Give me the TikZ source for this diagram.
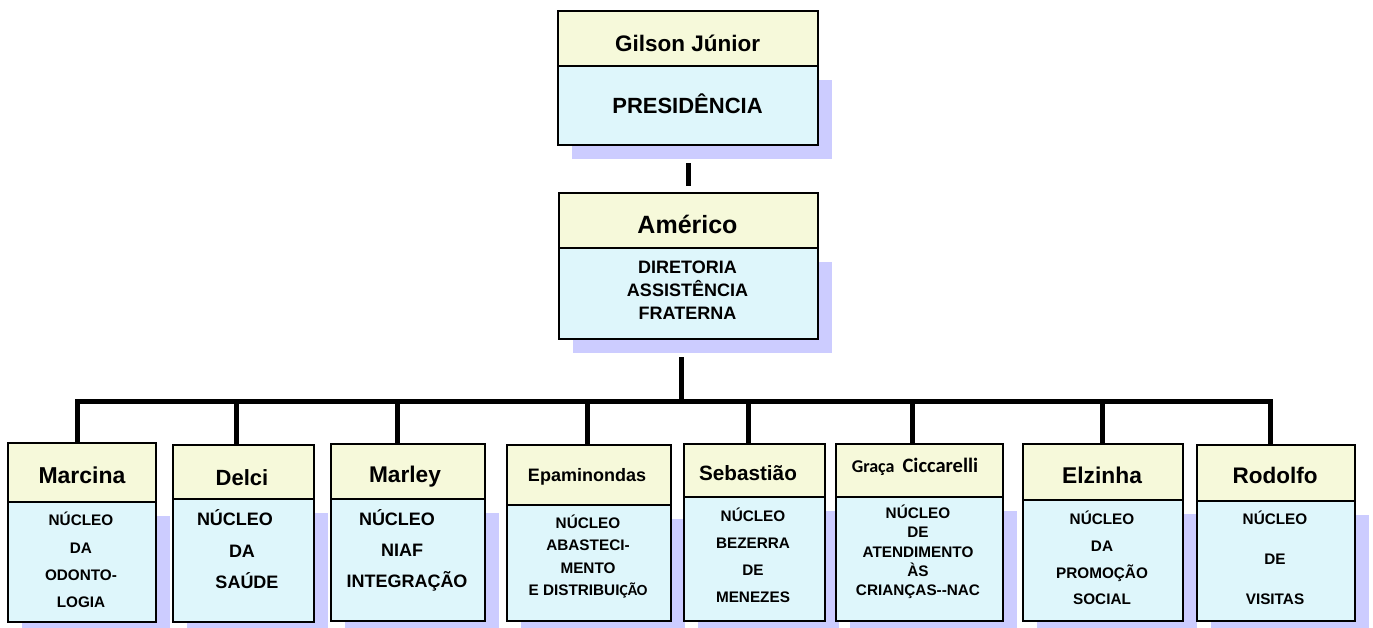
\documentclass[tikz,border=0pt]{standalone}
\usepackage{fontspec}
\setmainfont{Liberation Sans}
\newfontfamily\carl{Carlito}
\definecolor{hdfill}{RGB}{246,249,218}
\definecolor{bdfill}{RGB}{222,246,251}
\definecolor{shadowc}{RGB}{204,204,255}
\newcommand\fsz[2]{\fontsize{#1}{#2}\selectfont}
\tikzset{
  hd/.style={draw=black, line width=2.2pt, fill=hdfill, inner sep=0pt},
  bd/.style={draw=black, line width=2.2pt, fill=bdfill, inner sep=0pt},
  txt/.style={inner sep=0pt, align=center, text=black},
  conn/.style={draw=black, line width=5pt},
}
\newcommand\orgbox[6]{%
  \fill[shadowc] ({#2+15},{#5+15}) rectangle ({#3+15},{#6+15});
  \node[hd, anchor=north west, minimum width={#3-#2}, minimum height={#5-#4}] (#1h) at (#2,#4) {};
  \node[bd, anchor=north west, minimum width={#3-#2}, minimum height={#6-#5}] (#1b) at (#2,#5) {};
}
\begin{document}
\begin{tikzpicture}[x=1pt,y=-1pt]
\useasboundingbox (0,0) rectangle (1373,628);
% boxes
\orgbox{pr}{557}{817}{10}{65}{144}
\orgbox{am}{558}{817}{192}{247}{338}
\orgbox{mar}{7}{155}{442}{501}{621}
\orgbox{del}{172}{313}{444}{498}{621}
\orgbox{mly}{330}{484}{443}{498}{620}
\orgbox{epa}{506}{670}{444}{504}{620}
\orgbox{seb}{683}{824}{443}{496}{620}
\orgbox{gra}{835}{1002}{443}{496}{620}
\orgbox{elz}{1022}{1182}{443}{499}{620}
\orgbox{rod}{1196}{1354}{444}{500}{620}
% texts
\node[txt, font=\bfseries\fsz{22.5}{27}] (prName) at (687.5,43) {Gilson Júnior};
\node[txt, font=\bfseries\fsz{22}{27}] (prDesc) at (687.5,104) {PRESIDÊNCIA};
\node[txt, font=\bfseries\fsz{25}{30}] (amName) at (687.5,224) {Américo};
\node[txt, font=\bfseries\fsz{18}{23}] (amDesc) at (687.5,290) {DIRETORIA\\ASSISTÊNCIA\\FRATERNA};
\node[txt, font=\bfseries\fsz{23}{27}] (marName) at (82,475) {Marcina};
\node[txt, font=\bfseries\fsz{15.3}{27.3}] (marDesc) at (81,560) {NÚCLEO\\DA\\ODONTO-\\LOGIA};
\node[txt, font=\bfseries\fsz{22}{27}] (delName) at (242,478) {Delci};
\node[txt, font=\bfseries\fsz{18}{31.5}, anchor=north] (delDesc) at (235,509.5) {NÚCLEO\\\hspace*{14pt}DA\\\hspace*{24pt}SAÚDE};
\node[txt, font=\bfseries\fsz{22.7}{27}] (mlyName) at (405,477) {Marley};
\node[txt, font=\bfseries\fsz{18}{31}, anchor=north] (mlyDesc) at (397,509.5) {NÚCLEO\\\hspace*{10pt}NIAF\\\hspace*{20pt}INTEGRAÇÃO};
\node[txt, font=\bfseries\fsz{18}{22}] (epaName) at (587,477) {Epaminondas};
\node[txt, font=\bfseries\fsz{15.3}{22.3}] (epaDesc) at (588,556.5) {NÚCLEO\\ABASTECI-\\MENTO\\E DISTRIBUI{\carl\fsz{15.5}{22.3}ÇÃO}};
\node[txt, font=\bfseries\fsz{20.7}{26}] (sebName) at (748,473) {Sebastião};
\node[txt, font=\bfseries\fsz{15.3}{27}] (sebDesc) at (753,555.5) {NÚCLEO\\BEZERRA\\DE\\MENEZES};
\node[txt, font=\bfseries\carl] (graName) at (915,467) {\fsz{18}{24}Graça\ \ \fsz{20.5}{24}Ciccarelli};
\node[txt, font=\bfseries\fsz{15.3}{19.4}] (graDesc) at (918,552) {NÚCLEO\\DE\\ATENDIMENTO\\ÀS\\CRIANÇAS-{}-NAC};
\node[txt, font=\bfseries\fsz{22.8}{27}] (elzName) at (1102,475) {Elzinha};
\node[txt, font=\bfseries\fsz{15.3}{26.7}] (elzDesc) at (1102,558) {NÚCLEO\\DA\\PROMOÇÃO\\SOCIAL};
\node[txt, font=\bfseries\fsz{22.5}{27}] (rodName) at (1275,475) {Rodolfo};
\node[txt, font=\bfseries\fsz{15.3}{40}] (rodDesc) at (1275,558) {NÚCLEO\\DE\\VISITAS};
% connectors
\path (prb.south) ++(0,17) coordinate (prx);
\path (amh.north) ++(0,-6) coordinate (amy);
\draw[conn] (prx) -- (prx |- amy);
\coordinate (b1) at (77,401);
\coordinate (b2) at (236,401);
\coordinate (b3) at (397,401);
\coordinate (b4) at (587,401);
\coordinate (b5) at (748,401);
\coordinate (b6) at (912,401);
\coordinate (b7) at (1102,401);
\coordinate (b8) at (1270,401);
\coordinate (bm) at (681,401);
\path (amb.south) ++(0,17) coordinate (amx);
\draw[conn] (bm |- amx) -- (bm);
\draw[conn, line cap=rect] (b1) -- (b8);
\draw[conn] (b1) -- (b1 |- marh.north);
\draw[conn] (b2) -- (b2 |- delh.north);
\draw[conn] (b3) -- (b3 |- mlyh.north);
\draw[conn] (b4) -- (b4 |- epah.north);
\draw[conn] (b5) -- (b5 |- sebh.north);
\draw[conn] (b6) -- (b6 |- grah.north);
\draw[conn] (b7) -- (b7 |- elzh.north);
\draw[conn] (b8) -- (b8 |- rodh.north);
\end{tikzpicture}
\end{document}
